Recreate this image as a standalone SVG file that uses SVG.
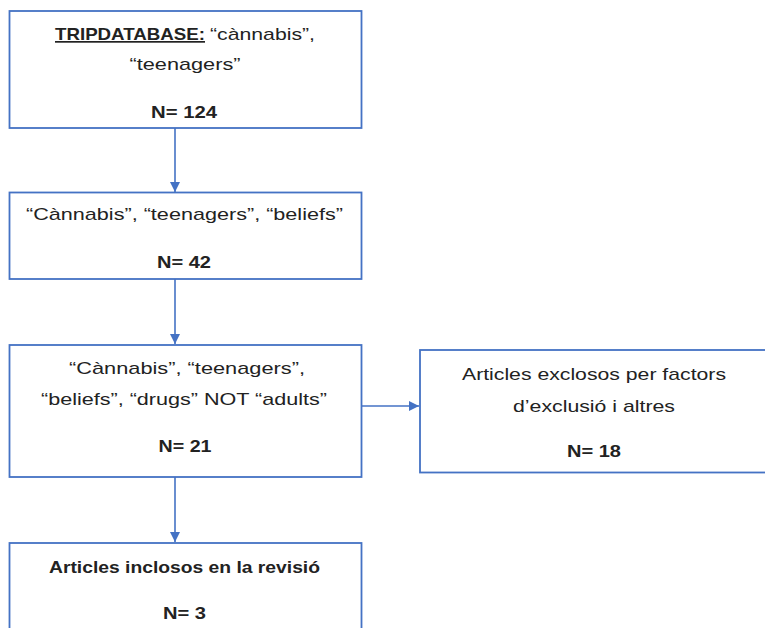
<svg xmlns="http://www.w3.org/2000/svg" width="765" height="628" viewBox="0 0 765 628">
  <style>
    .box { fill: #ffffff; stroke: #4472C4; stroke-width: 1.8; }
    .edge { fill: none; stroke: #4472C4; stroke-width: 1.6; }
    text { font-family: "Liberation Sans", Arial, sans-serif; font-size: 17px; fill: #222222; text-anchor: middle; }
    .b { font-weight: bold; }
    .s { text-anchor: start; }
  </style>
  <defs>
    <marker id="arrow" viewBox="0 0 10 10" refX="10" refY="5" markerWidth="10" markerHeight="10" markerUnits="userSpaceOnUse" orient="auto">
      <path d="M0,0 L10,5 L0,10 Z" fill="#4472C4"/>
    </marker>
  </defs>
  <rect width="765" height="628" fill="#ffffff"/>

  <g id="connectors">
    <line class="edge" x1="175" y1="128" x2="175" y2="192" marker-end="url(#arrow)"/>
    <line class="edge" x1="175" y1="279" x2="175" y2="344" marker-end="url(#arrow)"/>
    <line class="edge" x1="362" y1="406" x2="419" y2="406" marker-end="url(#arrow)"/>
    <line class="edge" x1="175" y1="477" x2="175" y2="542" marker-end="url(#arrow)"/>
  </g>

  <g id="tripdatabase">
    <rect class="box" x="9.5" y="11" width="352" height="117"/>
    <text class="b s" x="55" y="40" textLength="150" lengthAdjust="spacingAndGlyphs" text-decoration="underline">TRIPDATABASE:</text>
    <text class="s" x="210" y="40" textLength="105" lengthAdjust="spacingAndGlyphs">“cànnabis”,</text>
    <text x="185" y="70" textLength="111" lengthAdjust="spacingAndGlyphs">“teenagers”</text>
    <text class="b" x="184" y="118" textLength="66" lengthAdjust="spacingAndGlyphs">N= 124</text>
  </g>

  <g id="beliefs">
    <rect class="box" x="9.5" y="192.5" width="352" height="86.5"/>
    <text x="184.5" y="220" textLength="317" lengthAdjust="spacingAndGlyphs">“Cànnabis”, “teenagers”, “beliefs”</text>
    <text class="b" x="184" y="268" textLength="54" lengthAdjust="spacingAndGlyphs">N= 42</text>
  </g>

  <g id="drugs-not-adults">
    <rect class="box" x="9.5" y="345" width="352" height="132"/>
    <text x="187" y="374" textLength="236" lengthAdjust="spacingAndGlyphs">“Cànnabis”, “teenagers”,</text>
    <text x="184" y="405" textLength="286" lengthAdjust="spacingAndGlyphs">“beliefs”, “drugs” NOT “adults”</text>
    <text class="b" x="185" y="452" textLength="53" lengthAdjust="spacingAndGlyphs">N= 21</text>
  </g>

  <g id="excluded">
    <rect class="box" x="420" y="350" width="352" height="122.5"/>
    <text x="594" y="380" textLength="264" lengthAdjust="spacingAndGlyphs">Articles exclosos per factors</text>
    <text x="594" y="412" textLength="162" lengthAdjust="spacingAndGlyphs">d’exclusió i altres</text>
    <text class="b" x="594" y="457" textLength="54" lengthAdjust="spacingAndGlyphs">N= 18</text>
  </g>

  <g id="included">
    <rect class="box" x="9.5" y="543" width="352" height="100"/>
    <text class="b" x="184.5" y="573" textLength="271" lengthAdjust="spacingAndGlyphs">Articles inclosos en la revisió</text>
    <text class="b" x="184.5" y="619" textLength="43" lengthAdjust="spacingAndGlyphs">N= 3</text>
  </g>
</svg>
